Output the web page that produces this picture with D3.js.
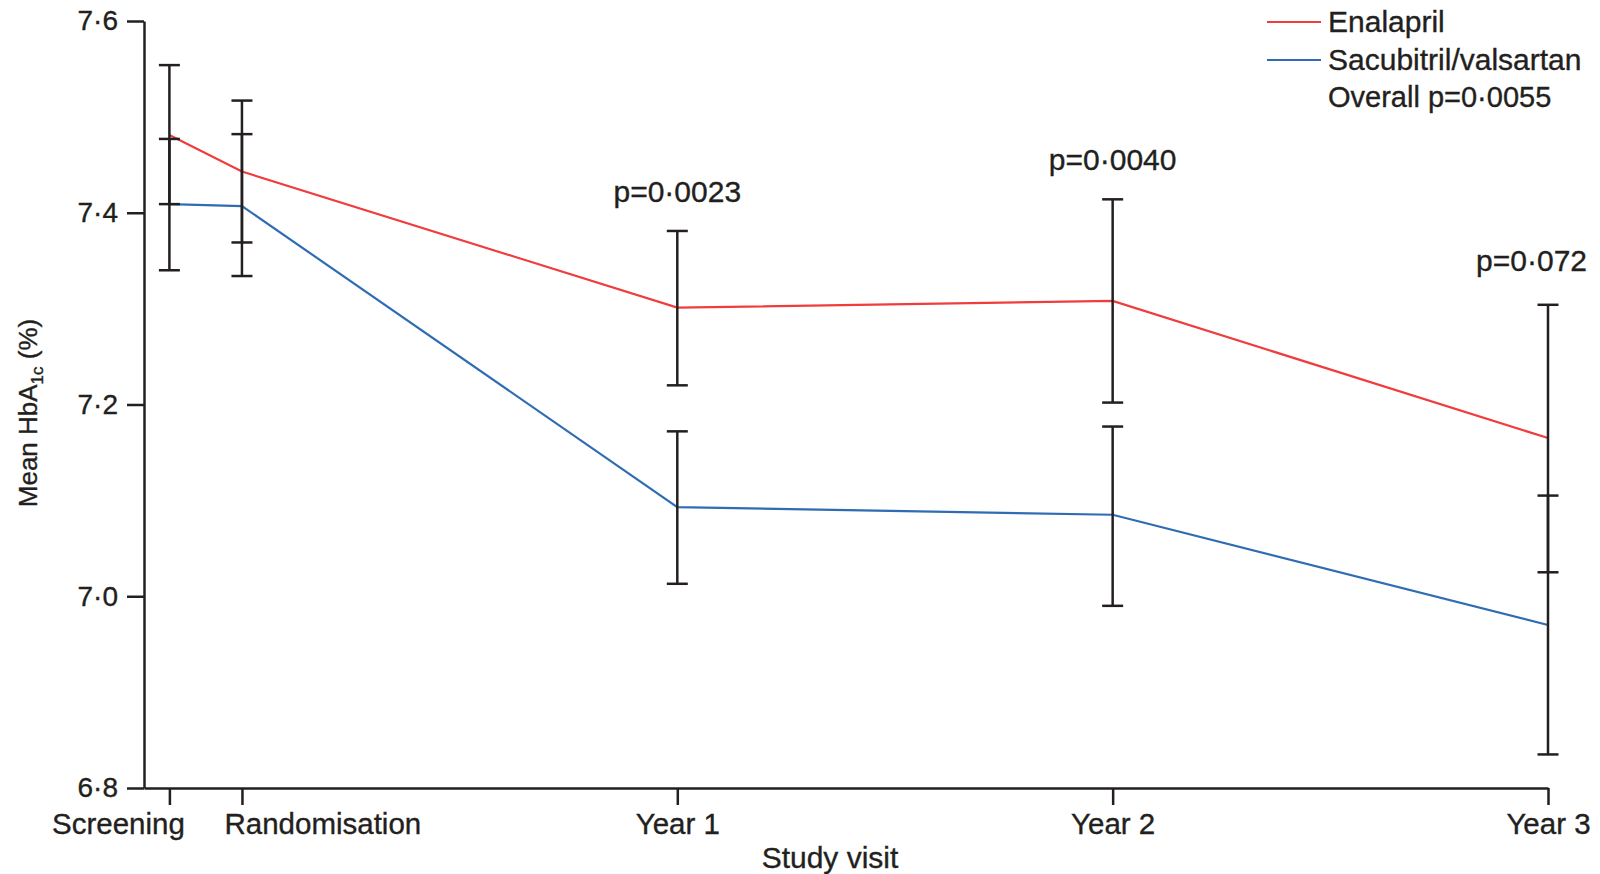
<!DOCTYPE html>
<html>
<head>
<meta charset="utf-8">
<script src="https://cdn.jsdelivr.net/npm/d3@7"></script>
<style>
  body { margin: 0; background: #fff; }
  text { font-family: "Liberation Sans", Arial, sans-serif; fill: #231f20; stroke: #231f20; stroke-width: 0.35px; }
</style>
</head>
<body>
<div id="chart"></div>
<script>
// study visits, months from randomisation
const visits = ["Screening", "Randomisation", "Year 1", "Year 2", "Year 3"];
const visitMonths = [-2, 0, 12, 24, 36];

// mean HbA1c (%) with 95% CI
const enalaprilMean = [7.481, 7.443, 7.301, 7.308, 7.165];
const enalaprilLow = [7.409, 7.369, 7.220, 7.202, 7.025];
const enalaprilHigh = [7.554, 7.517, 7.381, 7.414, 7.304];

const sacvalMean = [7.409, 7.407, 7.093, 7.085, 6.970];
const sacvalLow = [7.340, 7.334, 7.013, 6.990, 6.835];
const sacvalHigh = [7.477, 7.482, 7.172, 7.177, 7.105];

const yTicks = [6.8, 7.0, 7.2, 7.4, 7.6];

// p values shown at Year 1..3
const pVisits = [2, 3, 4];
const pLabels = ["p=0·0023", "p=0·0040", "p=0·072"];
const overallP = "Overall p=0·0055";

const series = [
    { name: "Enalapril", color: "#f03c3c", mean: enalaprilMean, low: enalaprilLow, high: enalaprilHigh },
    { name: "Sacubitril/valsartan", color: "#2f6cb3", mean: sacvalMean, low: sacvalLow, high: sacvalHigh }
];

const width = 1600, height = 874;
const svg = d3.select("#chart").append("svg")
    .attr("width", width)
    .attr("height", height);

const x = d3.scaleLinear().domain([-2.7, 36]).range([144, 1548]);
const y = d3.scaleLinear().domain([6.8, 7.6]).range([788, 21]);

const fmt = d => d.toFixed(1).replace(".", "·");

// axes
const xAxis = svg.append("g")
    .attr("transform", "translate(0," + y(6.8) + ")")
    .call(d3.axisBottom(x)
        .tickValues(visitMonths)
        .tickFormat((d, i) => visits[i])
        .tickSize(17)
        .tickSizeOuter(0)
        .tickPadding(8));

const yAxis = svg.append("g")
    .attr("transform", "translate(" + x(-2.7) + ",0)")
    .call(d3.axisLeft(y)
        .tickValues(yTicks)
        .tickFormat(fmt)
        .tickSize(17)
        .tickSizeOuter(0)
        .tickPadding(9));

[xAxis, yAxis].forEach(a => {
    a.selectAll("path, line").attr("stroke", "#231f20").attr("stroke-width", 2.5);
    a.selectAll("text").attr("font-family", null).attr("fill", null).style("fill", "#231f20");
});
xAxis.selectAll("text").attr("font-size", 29.5);
yAxis.selectAll("text").attr("font-size", 28);

// crowded first two labels are nudged away from each other
xAxis.selectAll(".tick text")
    .attr("text-anchor", (d, i) => i == 0 ? "end" : (i == 1 ? "start" : "middle"))
    .attr("dx", (d, i) => i == 0 ? 15 : (i == 1 ? -18 : 0));

// axis titles
svg.append("text")
    .attr("x", 830)
    .attr("y", 868)
    .attr("text-anchor", "middle")
    .attr("font-size", 30)
    .text("Study visit");

const yLabel = svg.append("text")
    .attr("transform", "translate(37,413) rotate(-90)")
    .attr("text-anchor", "middle")
    .attr("font-size", 26);
yLabel.append("tspan").text("Mean HbA");
yLabel.append("tspan").attr("font-size", 17).attr("dy", 6).text("1c");
yLabel.append("tspan").attr("dy", -6).text(" (%)");

// lines
const line = d3.line()
    .x((d, i) => x(visitMonths[i]))
    .y(d => y(d));

svg.selectAll(".series")
    .data(series)
    .enter()
    .append("path")
    .attr("class", "series")
    .attr("d", s => line(s.mean))
    .attr("fill", "none")
    .attr("stroke", s => s.color)
    .attr("stroke-width", 2.2);

// error bars
const bars = [];
series.forEach(s => {
    s.mean.forEach((m, i) => bars.push({ x: visitMonths[i], low: s.low[i], high: s.high[i] }));
});

const eb = svg.selectAll(".errbar")
    .data(bars)
    .enter()
    .append("g")
    .attr("class", "errbar")
    .attr("stroke", "#231f20")
    .attr("stroke-width", 2.5);

eb.append("line")
    .attr("x1", d => x(d.x)).attr("x2", d => x(d.x))
    .attr("y1", d => y(d.low)).attr("y2", d => y(d.high));
eb.append("line")
    .attr("x1", d => x(d.x) - 10.5).attr("x2", d => x(d.x) + 10.5)
    .attr("y1", d => y(d.low)).attr("y2", d => y(d.low));
eb.append("line")
    .attr("x1", d => x(d.x) - 10.5).attr("x2", d => x(d.x) + 10.5)
    .attr("y1", d => y(d.high)).attr("y2", d => y(d.high));

// p values above the highest whisker
svg.selectAll(".pval")
    .data(pVisits)
    .enter()
    .append("text")
    .attr("class", "pval")
    .attr("x", (d, i) => x(visitMonths[d]) + (i == 2 ? 39 : 0))
    .attr("y", (d, i) => y(Math.max(enalaprilHigh[d], sacvalHigh[d])) - (i == 2 ? 34 : 29))
    .attr("text-anchor", (d, i) => i == 2 ? "end" : "middle")
    .attr("font-size", 30)
    .text((d, i) => pLabels[i]);

// legend
const legend = svg.append("g").attr("transform", "translate(1267,22)");
const item = legend.selectAll(".item")
    .data(series)
    .enter()
    .append("g")
    .attr("transform", (d, i) => "translate(0," + i * 38 + ")");
item.append("line")
    .attr("x1", 0).attr("x2", 54)
    .attr("stroke", d => d.color)
    .attr("stroke-width", 2.2);
item.append("text")
    .attr("x", 61)
    .attr("y", 10)
    .attr("font-size", 30)
    .text(d => d.name);
legend.append("text")
    .attr("x", 61)
    .attr("y", 85)
    .attr("font-size", 29)
    .text(overallP);
</script>
</body>
</html>
